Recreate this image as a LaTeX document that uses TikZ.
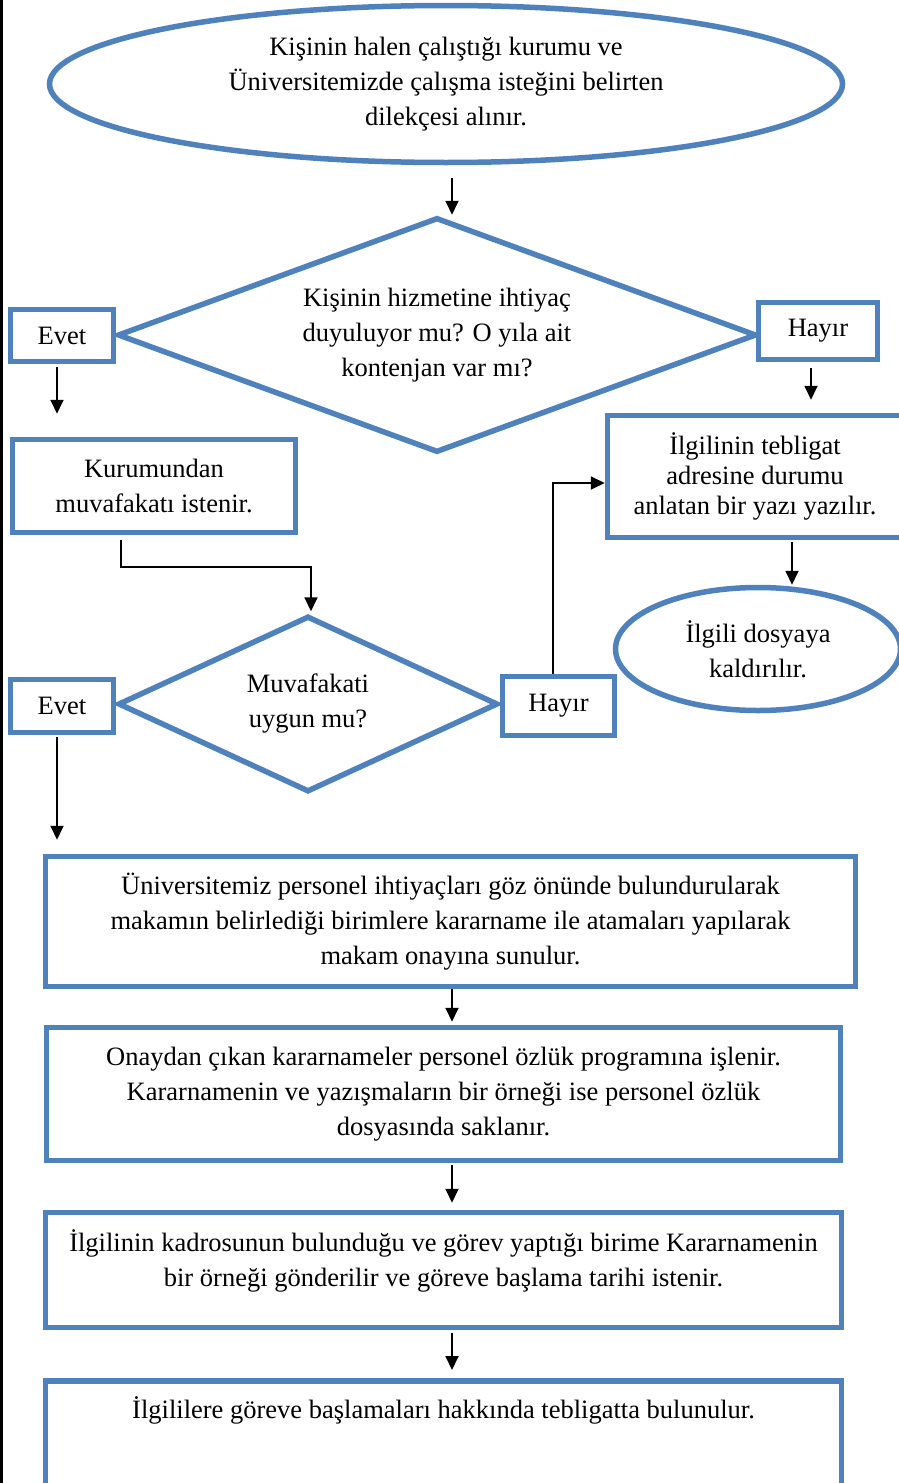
\documentclass[tikz,border=0pt]{standalone}
\usepackage{fontspec}
\setmainfont{Liberation Serif}
\usetikzlibrary{shapes.geometric,arrows.meta}
\definecolor{wordblue}{RGB}{79,129,189}
\newcommand{\flowfont}{\fontsize{26.5}{35}\selectfont}

\begin{document}
\begin{tikzpicture}[x=1pt,y=-1pt]
    \tikzstyle{block} = [rectangle, draw=wordblue, line width=5.5pt, fill=white, align=center, font=\flowfont, inner sep=2pt];
    \tikzstyle{terminal} = [block, ellipse, inner sep=0pt]
    \tikzstyle{decision} = [block, diamond, inner sep=0pt]
    \tikzstyle{marrow} = [black, line width=1.8pt, -{Triangle[length=14pt,width=13pt]}];

    \useasboundingbox (0,0) rectangle (899,1483);
    \draw[line width=3pt] (1.5,0) -- (1.5,1483);

    \node[terminal, minimum width=793pt, minimum height=157pt] (start) at (446,84)
        {Kişinin halen çalıştığı kurumu ve\\Üniversitemizde çalışma isteğini belirten\\dilekçesi alınır.};
    \node[decision, shape aspect=2.72, minimum width=639pt, minimum height=235pt] (dia-1) at (437,335)
        {Kişinin hizmetine ihtiyaç\\duyuluyor mu? O yıla ait\\kontenjan var mı?};
    \node[block, minimum width=103pt, minimum height=52pt] (evet-1) at (62,335.5) {Evet};
    \node[block, minimum width=119pt, minimum height=57pt] (hayir-1) at (818,331) {Hayır};

    \node[block, minimum width=283pt, minimum height=93pt] (kurum) at (154,486)
        {Kurumundan\\muvafakatı istenir.};
    \node[block, minimum width=295pt, minimum height=122pt, font=\fontsize{26.5}{30}\selectfont] (tebligat) at (755,476.5)
        {İlgilinin tebligat\\adresine durumu\\anlatan bir yazı yazılır.};
    \node[terminal, minimum width=285pt, minimum height=123pt] (dosya) at (758,649)
        {İlgili dosyaya\\kaldırılır.};

    \node[decision, shape aspect=2.16, minimum width=380pt, minimum height=176pt] (dia-2) at (308,704)
        {Muvafakati\\uygun mu?};
    \node[block, minimum width=103pt, minimum height=53pt] (evet-2) at (62,706) {Evet};
    \node[block, minimum width=112pt, minimum height=59pt] (hayir-2) at (558.5,706) {Hayır};

    \node[block, minimum width=810pt, minimum height=130pt] (atama) at (450.5,921.5)
        {Üniversitemiz personel ihtiyaçları göz önünde bulundurularak\\makamın belirlediği birimlere kararname ile atamaları yapılarak\\makam onayına sunulur.};
    \node[block, minimum width=794pt, minimum height=133pt] (onay) at (443.5,1094)
        {Onaydan çıkan kararnameler personel özlük programına işlenir.\\Kararnamenin ve yazışmaların bir örneği ise personel özlük\\dosyasında saklanır.};
    \node[block, minimum width=796pt, minimum height=115pt] (birim) at (443.5,1270)
        {İlgilinin kadrosunun bulunduğu ve görev yaptığı birime Kararnamenin\\bir örneği gönderilir ve göreve başlama tarihi istenir.\\[-12pt]\mbox{}};
    \node[block, minimum width=796pt, anchor=north, inner ysep=4pt, text height=33.5pt, text depth=80pt] (teblig) at (443.5,1378)
        {İlgililere göreve başlamaları hakkında tebligatta bulunulur.};

    % oklar
    \draw[marrow, shorten <=13pt] ([xshift=6pt]start.south) -- ([xshift=6pt]start.south |- dia-1.north);
    \draw[marrow, shorten <=3pt, shorten >=23pt] ([xshift=-5pt]evet-1.south) -- ([xshift=-5pt]evet-1.south |- kurum.north);
    \draw[marrow, shorten <=6pt, shorten >=13pt] ([xshift=-7pt]hayir-1.south) -- ([xshift=-7pt]hayir-1.south |- tebligat.north);
    \draw[marrow, shorten <=2pt] ([xshift=37pt]tebligat.south) -- ([xshift=37pt]tebligat.south |- dosya.north);
    \draw[marrow, shorten <=5pt, shorten >=2pt] ([xshift=-33pt]kurum.south) -- ++(0,32) -| ([xshift=3pt]dia-2.north);
    \draw[marrow] ([xshift=-5.5pt]hayir-2.north) |- ([yshift=-6.5pt]tebligat.west);
    \draw[marrow, shorten <=2pt, shorten >=14pt] ([xshift=-5pt]evet-2.south) -- ([xshift=-5pt]evet-2.south |- atama.north);
    \draw[marrow, shorten >=3pt] ([xshift=1.5pt]atama.south) -- ([xshift=1.5pt]atama.south |- onay.north);
    \draw[marrow, shorten <=2pt, shorten >=7pt] ([xshift=8.5pt]onay.south) -- ([xshift=8.5pt]onay.south |- birim.north);
    \draw[marrow, shorten <=3pt, shorten >=8pt] ([xshift=8.5pt]birim.south) -- ([xshift=8.5pt]birim.south |- teblig.north);

\end{tikzpicture}
\end{document}
